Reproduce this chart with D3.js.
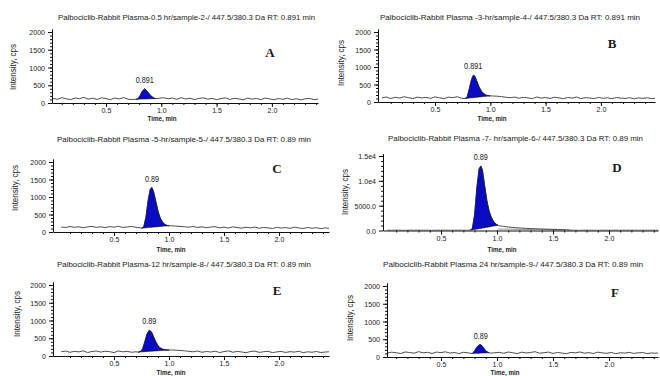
<!DOCTYPE html>
<html>
<head>
<meta charset="utf-8">
<script src="https://cdn.jsdelivr.net/npm/d3@7"></script>
<style>
    body {margin: 0; background: #fff;}
    svg {display: block;}
    text {font-family: Arial, "Liberation Sans", sans-serif; fill: #1a1a1a;}
</style>
</head>
<body>
<svg id="chart" width="660" height="376"></svg>
<script>
// ---- data ----
const titles = [
    'Palbociclib-Rabbit Plasma-0.5 hr/sample-2-/ 447.5/380.3 Da RT: 0.891 min',
    'Palbociclib-Rabbit Plasma -3-hr/sample-4-/ 447.5/380.3 Da RT: 0.891 min',
    'Palbociclib-Rabbit Plasma -5-hr/sample-5-/ 447.5/380.3 Da RT: 0.89 min',
    'Palbociclib-Rabbit Plasma -7- hr/sample-6-/ 447.5/380.3 Da RT: 0.89 min',
    'Palbociclib-Rabbit Plasma-12 hr/sample-8-/ 447.5/380.3 Da RT: 0.89 min',
    'Palbociclib-Rabbit Plasma 24 hr/sample-9-/ 447.5/380.3 Da RT: 0.89 min'
];
const letters = ['A', 'B', 'C', 'D', 'E', 'F'];
const peakLabels = ['0.891', '0.891', '0.89', '0.89', '0.89', '0.89'];

const xTicks = [0.5, 1.0, 1.5, 2.0];
const xTickLabels = ['0.5', '1.0', '1.5', '2.0'];
const yTicks = [0, 500, 1000, 1500, 2000];
const yTicksD = [0, 5000, 10000, 15000];
const yTickLabelsD = ['0.0', '5000.0', '1.0e4', '1.5e4'];

// baseline trace, min
const gridT = [0.02, 0.06, 0.10, 0.14, 0.18, 0.22, 0.26, 0.30, 0.34, 0.38, 0.42, 0.46, 0.50, 0.54, 0.58, 0.62,
    0.66, 0.70, 0.74, 0.78, 0.82, 0.86, 0.90, 0.94, 0.98, 1.02, 1.06, 1.10, 1.14, 1.18, 1.22, 1.26, 1.30, 1.34,
    1.38, 1.42, 1.46, 1.50, 1.54, 1.58, 1.62, 1.66, 1.70, 1.74, 1.78, 1.82, 1.86, 1.90, 1.94, 1.98, 2.02, 2.06,
    2.10, 2.14, 2.18, 2.22, 2.26, 2.30, 2.34, 2.38, 2.42, 2.46, 2.50];

const noiseA = [128, 104, 150, 118, 96, 142, 122, 158, 110, 136, 100, 148, 124, 92, 140, 116, 152, 106, 98, 120,
    120, 120, 120, 120, 132, 148, 120, 140, 104, 150, 112, 134, 96, 128, 146, 108, 130, 94, 124, 144,
    100, 132, 118, 90, 138, 110, 128, 96, 140, 114, 92, 126, 104, 134, 96, 120, 88, 118, 130, 94, 112, 98, 120];
const noiseB = [118, 142, 100, 136, 112, 150, 124, 98, 140, 116, 132, 104, 146, 120, 94, 138, 126, 150, 108, 100,
    100, 100, 100, 100, 100, 172, 166, 154, 136, 122, 140, 108, 132, 118, 96, 144, 112, 128, 100, 136,
    118, 92, 130, 110, 142, 98, 124, 114, 96, 132, 106, 120, 94, 128, 112, 100, 124, 90, 116, 104, 120, 96, 112];
const noiseC = [142, 128, 156, 134, 150, 122, 146, 160, 132, 148, 126, 154, 138, 162, 130, 144, 158, 136, 120, 140,
    140, 140, 140, 140, 140, 176, 170, 160, 150, 138, 156, 130, 148, 124, 142, 152, 120, 138, 114, 146,
    128, 110, 136, 120, 142, 106, 130, 118, 98, 134, 112, 126, 104, 138, 116, 100, 128, 108, 122, 96, 118, 104, 112];
const noiseD = [60, 40, 70, 50, 35, 65, 45, 75, 40, 55, 30, 60, 50, 70, 40, 55, 65, 35, 45, 50,
    50, 50, 50, 50, 50, 950, 820, 700, 610, 540, 480, 430, 390, 350, 320, 290, 260, 230, 200, 170,
    130, 60, 50, 35, 65, 45, 55, 30, 60, 50, 40, 65, 35, 55, 45, 60, 40, 50, 45, 55, 40, 60, 45];
const noiseE = [120, 138, 104, 132, 116, 146, 98, 128, 140, 110, 134, 122, 96, 142, 118, 130, 106, 118, 112, 120,
    120, 120, 120, 120, 120, 170, 164, 156, 146, 132, 118, 140, 104, 128, 112, 136, 98, 124, 144, 106,
    130, 114, 92, 126, 138, 102, 120, 132, 96, 116, 128, 100, 122, 110, 134, 94, 118, 106, 126, 98, 112, 120, 102];
const noiseF = [112, 136, 120, 98, 142, 126, 108, 150, 118, 132, 100, 138, 124, 146, 110, 128, 96, 134, 116, 110,
    110, 110, 110, 110, 118, 132, 104, 140, 120, 96, 136, 114, 128, 150, 106, 122, 138, 100, 126, 112,
    94, 130, 118, 142, 108, 124, 98, 136, 116, 104, 128, 92, 120, 110, 132, 100, 118, 126, 96, 114, 106, 120, 100];

// integrated peaks
const peakTA = [0.77, 0.79, 0.81, 0.83, 0.85, 0.87, 0.89, 0.91, 0.93, 0.95];
const peakVA = [105, 120, 220, 340, 400, 340, 260, 190, 145, 125];
const peakTB = [0.77, 0.79, 0.81, 0.83, 0.845, 0.86, 0.88, 0.90, 0.92, 0.94, 0.96, 0.98, 1.00];
const peakVB = [100, 130, 380, 640, 760, 740, 580, 420, 310, 240, 200, 182, 175];
const peakTC = [0.75, 0.77, 0.79, 0.81, 0.83, 0.845, 0.86, 0.88, 0.90, 0.92, 0.94, 0.96, 0.98, 1.00];
const peakVC = [110, 140, 420, 900, 1230, 1270, 1150, 880, 600, 400, 290, 220, 190, 180];
const peakTD = [0.76, 0.78, 0.80, 0.82, 0.84, 0.855, 0.87, 0.89, 0.91, 0.93, 0.95, 0.97, 0.99, 1.01];
const peakVD = [40, 400, 3200, 8600, 12400, 13000, 12200, 9000, 6000, 3900, 2600, 1800, 1300, 1050];
const peakTE = [0.72, 0.74, 0.76, 0.78, 0.80, 0.82, 0.84, 0.86, 0.88, 0.90, 0.92, 0.94, 0.96, 0.98, 1.00];
const peakVE = [110, 125, 200, 400, 620, 725, 680, 540, 400, 290, 230, 195, 180, 172, 168];
const peakTF = [0.78, 0.80, 0.82, 0.84, 0.855, 0.87, 0.89, 0.91, 0.93];
const peakVF = [100, 170, 280, 340, 350, 300, 210, 150, 120];

// tail baseline drawn under the D tail
const tailBaseTD = [1.01, 1.66];
const tailBaseVD = [300, 60];

// ---- layout (pixels) ----
const panels = [
    {noise: noiseA, pt: peakTA, pv: peakVA, left: 52, right: 318, x05: 106, ppm: 110.6, y0: 103, yTop: 32,
        title: [186.5, 19.5, 257], letter: [270, 57], ylab: [13, 67], xlab: [162, 121]},
    {noise: noiseB, pt: peakTB, pv: peakVB, left: 378, right: 655, x05: 435, ppm: 110.6, y0: 102, yTop: 32,
        title: [510, 19.5, 260], letter: [612, 48], ylab: [341, 63], xlab: [492, 121]},
    {noise: noiseC, pt: peakTC, pv: peakVC, left: 53, right: 329, x05: 114, ppm: 110, y0: 232, yTop: 162,
        title: [184, 141.5, 254], letter: [277, 173], ylab: [15, 188], xlab: [171, 252]},
    {noise: noiseD, pt: peakTD, pv: peakVD, left: 383, right: 658, x05: 441, ppm: 112, y0: 230.5, yTop: 156,
        title: [515.5, 140.5, 255], letter: [617, 172], ylab: [345, 192], xlab: [502, 252], big: true},
    {noise: noiseE, pt: peakTE, pv: peakVE, left: 53, right: 329, x05: 114, ppm: 110, y0: 356, yTop: 285,
        title: [184, 266.5, 254], letter: [277, 295], ylab: [17, 314], xlab: [171, 375]},
    {noise: noiseF, pt: peakTF, pv: peakVF, left: 387, right: 658, x05: 441, ppm: 112, y0: 357, yTop: 286,
        title: [513, 266.5, 260], letter: [615, 297], ylab: [350, 318], xlab: [505, 375]}
];

const svg = d3.select('#chart');

function narrow(sel, k) {
    sel.each(function () {
        const w = this.getComputedTextLength();
        d3.select(this).attr('textLength', w * k).attr('lengthAdjust', 'spacingAndGlyphs');
    });
}

panels.forEach((p, i) => {
    const g = svg.append('g');
    const d0 = 0.5 - (p.x05 - p.left) / p.ppm, d1 = 0.5 + (p.right - p.x05) / p.ppm;
    const x = d3.scaleLinear().domain([d0, d1]).range([p.left, p.right]);
    const topVal = p.big ? 15000 : 2000;
    const axisTop = p.big ? 15500 : 2090;
    const y = d3.scaleLinear().domain([0, topVal]).range([p.y0, p.yTop]);
    const yAx = d3.scaleLinear().domain([0, axisTop]).range([p.y0, y(axisTop)]);

    // clip
    const cid = 'clip' + i;
    g.append('clipPath').attr('id', cid).append('rect')
        .attr('x', p.left).attr('y', y(axisTop))
        .attr('width', p.right - p.left).attr('height', p.y0 - y(axisTop));

    // trace = baseline before peak + peak + baseline after
    const t0 = p.pt[0], t1 = p.pt[p.pt.length - 1];
    const before = gridT.map((t, j) => [t, p.noise[j]]).filter(d => d[0] < t0);
    const peak = p.pt.map((t, j) => [t, p.pv[j]]);
    const after = gridT.map((t, j) => [t, p.noise[j]]).filter(d => d[0] > t1 && d[1] !== undefined);
    const trace = before.concat(peak, after);

    const base = d3.scaleLinear().domain([t0, t1]).range([p.pv[0], p.pv[p.pv.length - 1]]);
    const area = d3.area()
        .x(d => x(d[0]))
        .y0(d => y(base(d[0])))
        .y1(d => y(d[1]));

    const plot = g.append('g').attr('clip-path', `url(#${cid})`);
    plot.append('path').datum(peak)
        .attr('d', area)
        .attr('fill', '#0a0ac4')
        .attr('stroke', '#00006a')
        .attr('stroke-width', 0.6);

    if (p.big) {
        const tb = tailBaseTD.map((t, j) => [t, tailBaseVD[j]]);
        plot.append('path').datum(tb)
            .attr('d', d3.line().x(d => x(d[0])).y(d => y(d[1])))
            .attr('fill', 'none').attr('stroke', '#666').attr('stroke-width', 0.7);
    }

    plot.append('path').datum(trace)
        .attr('d', d3.line().x(d => x(d[0])).y(d => y(d[1])))
        .attr('fill', 'none')
        .attr('stroke', '#222')
        .attr('stroke-width', 0.8);

    // axes
    const minorX = d3.range(1, 25).map(k => k / 10).filter(v => v > d0 && v < d1);
    g.append('g').attr('transform', `translate(0,${p.y0})`)
        .call(d3.axisBottom(x).tickValues(minorX).tickSize(2).tickSizeOuter(0).tickFormat(''))
        .call(a => a.select('.domain').remove());
    const xa = g.append('g').attr('transform', `translate(0,${p.y0})`)
        .call(d3.axisBottom(x).tickValues(xTicks).tickSize(4).tickSizeOuter(0)
            .tickFormat((d, j) => xTickLabels[j]));
    xa.selectAll('text').attr('font-size', 8).attr('font-family', 'Arial, "Liberation Sans", sans-serif')
        .attr('fill', '#222').attr('dy', '0.4em');

    const minorStep = p.big ? 1000 : 100;
    const minorY = d3.range(minorStep, axisTop, minorStep);
    g.append('g').attr('transform', `translate(${p.left},0)`)
        .call(d3.axisLeft(yAx).tickValues(minorY).tickSize(2).tickSizeOuter(0).tickFormat(''))
        .call(a => a.select('.domain').remove());
    const ya = g.append('g').attr('transform', `translate(${p.left},0)`)
        .call(d3.axisLeft(yAx).tickValues(p.big ? yTicksD : yTicks).tickSize(4).tickSizeOuter(0)
            .tickFormat((d, j) => p.big ? yTickLabelsD[j] : String(d)));
    ya.selectAll('text').attr('font-size', 8).attr('font-family', 'Arial, "Liberation Sans", sans-serif')
        .attr('fill', '#222');
    g.selectAll('.domain').attr('stroke', '#111');
    g.selectAll('.tick line').attr('stroke', '#111');
    narrow(xa.selectAll('text'), 0.88);
    narrow(ya.selectAll('text'), 0.88);

    // peak label
    const iMax = d3.maxIndex(p.pv);
    const pl = g.append('text')
        .attr('x', x(p.pt[iMax])).attr('y', y(p.pv[iMax]) - 6)
        .attr('text-anchor', 'middle').attr('font-size', 8.5)
        .text(peakLabels[i]);
    narrow(pl, 0.85);

    // title
    g.append('text')
        .attr('x', p.title[0]).attr('y', p.title[1])
        .attr('text-anchor', 'middle').attr('font-size', 8)
        .attr('textLength', p.title[2]).attr('lengthAdjust', 'spacingAndGlyphs')
        .text(titles[i]);

    // axis titles
    const yl = g.append('text')
        .attr('transform', `translate(${p.ylab[0]},${p.ylab[1]}) rotate(-90)`)
        .attr('text-anchor', 'middle').attr('dy', '0.35em').attr('font-size', 8.5)
        .attr('fill', '#333')
        .text('Intensity, cps');
    yl.attr('textLength', 46).attr('lengthAdjust', 'spacingAndGlyphs');

    g.append('text')
        .attr('x', p.xlab[0]).attr('y', p.xlab[1])
        .attr('text-anchor', 'middle').attr('font-size', 7.5).attr('font-weight', 'bold')
        .attr('fill', '#333')
        .attr('textLength', 29).attr('lengthAdjust', 'spacingAndGlyphs')
        .text('Time, min');

    // panel letter
    g.append('text')
        .attr('x', p.letter[0]).attr('y', p.letter[1])
        .attr('text-anchor', 'middle')
        .style('font-family', '"Liberation Serif", "Times New Roman", serif')
        .attr('font-size', 13).attr('font-weight', 'bold').attr('fill', '#111')
        .text(letters[i]);
});
</script>
</body>
</html>
